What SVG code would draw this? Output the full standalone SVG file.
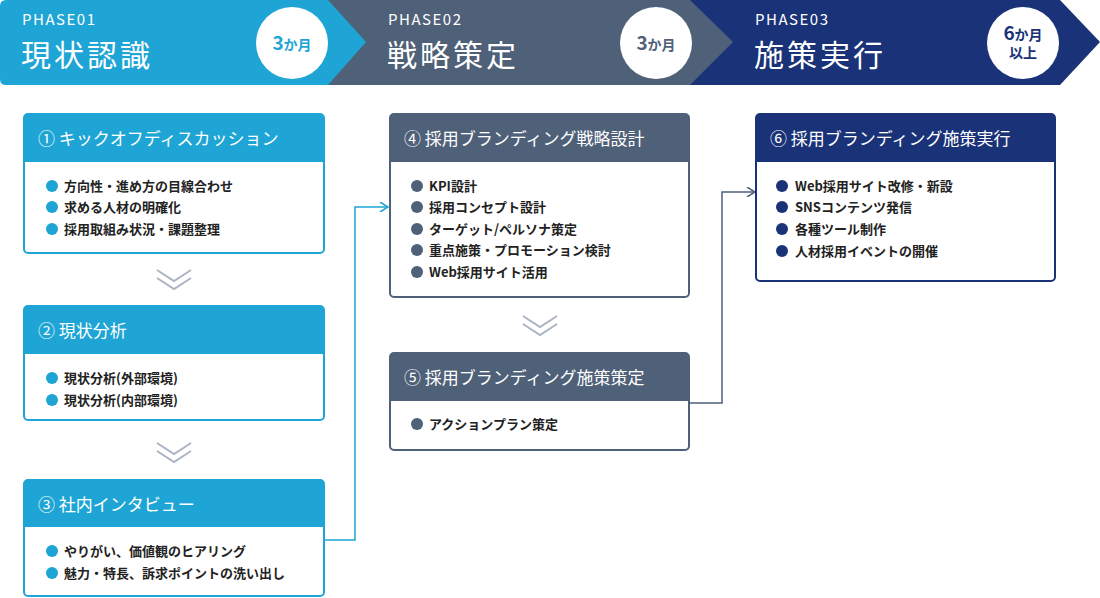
<svg xmlns="http://www.w3.org/2000/svg" width="1100" height="598" viewBox="0 0 1100 598">
<style>
text{font-family:"Noto Sans CJK JP","Noto Sans",sans-serif}
.ph{fill:#fff;font-size:15px;letter-spacing:1.5px}
.pt{fill:#fff;font-size:30px;letter-spacing:3px}
.hd{fill:#fff;font-size:17px}
.it{fill:#222;font-size:13px;font-weight:bold}
.body{fill:#fff;stroke-width:2}
.b1{stroke:#1ea5d5}.b2{stroke:#4f6079}.b3{stroke:#1a3278}
.d1{fill:#1ea5d5}.d2{fill:#4f6079}.d3{fill:#1a3278}
.chev{fill:none;stroke:#aab4c2;stroke-width:2}
.conn{fill:none;stroke-width:1.5}
</style>
<g id="banner">
<polygon points="690,0 1060,0 1100,42 1060,85 690,85" fill="#1a3278"/>
<polygon points="325,0 690,0 733,42 690,85 325,85" fill="#4f6079"/>
<path d="M6,0 H328 L366,42 L328,85 H6 Q0,85 0,79 V6 Q0,0 6,0Z" fill="#1ea5d5"/>
<text class="ph" x="22" y="25">PHASE01</text><text class="pt" x="21" y="66">現状認識</text>
<text class="ph" x="388" y="25">PHASE02</text><text class="pt" x="387" y="66">戦略策定</text>
<text class="ph" x="755" y="25">PHASE03</text><text class="pt" x="754" y="66">施策実行</text>
<circle cx="292" cy="43" r="36" fill="#fff"/>
<text x="292" y="50" text-anchor="middle" fill="#1ea5d5" font-weight="bold"><tspan font-size="19">3</tspan><tspan font-size="14">か月</tspan></text>
<circle cx="656" cy="43" r="36" fill="#fff"/>
<text x="656" y="50" text-anchor="middle" fill="#4f6079" font-weight="bold"><tspan font-size="19">3</tspan><tspan font-size="14">か月</tspan></text>
<circle cx="1023" cy="43" r="36" fill="#fff"/>
<text x="1023" y="40" text-anchor="middle" fill="#1a3278" font-weight="bold"><tspan font-size="19">6</tspan><tspan font-size="14">か月</tspan></text>
<text x="1023" y="58" text-anchor="middle" fill="#1a3278" font-weight="bold" font-size="14">以上</text>
</g>
<defs><marker id="ar" viewBox="0 0 10 10" refX="9" refY="5" markerWidth="10" markerHeight="10" markerUnits="userSpaceOnUse"><path d="M1,0 L9,5 L1,10" fill="none" stroke="context-stroke" stroke-width="1.5"/></marker></defs>
<g id="connectors">
<polyline class="conn" stroke="#1ea5d5" points="324,540 355,540 355,207 388,207" marker-end="url(#ar)"/>
<polyline class="conn" stroke="#4f6079" points="689,403 722,403 722,192 755,192" marker-end="url(#ar)"/>
<path class="chev" d="M157,270 L174,281 L191,270 M157,278 L174,289 L191,278"/>
<path class="chev" d="M157,443 L174,454 L191,443 M157,451 L174,462 L191,451"/>
<path class="chev" d="M523,316 L540,327 L557,316 M523,324 L540,335 L557,324"/>
</g>
<g id="n1"><rect class="body b1" x="24" y="114" width="300" height="139" rx="4"/><path d="M28,114 H320 Q324,114 324,118 V162 H24 V118 Q24,114 28,114Z" class="d1"/>
<text class="hd" x="38" y="145">① キックオフディスカッション</text>
<circle class="d1" cx="52" cy="186" r="6"/><text class="it" x="64" y="191">方向性・進め方の目線合わせ</text>
<circle class="d1" cx="52" cy="207" r="6"/><text class="it" x="64" y="212">求める人材の明確化</text>
<circle class="d1" cx="52" cy="229" r="6"/><text class="it" x="64" y="234">採用取組み状況・課題整理</text></g>
<g id="n2"><rect class="body b1" x="24" y="306" width="300" height="114" rx="4"/><path d="M28,306 H320 Q324,306 324,310 V354 H24 V310 Q24,306 28,306Z" class="d1"/>
<text class="hd" x="38" y="337">② 現状分析</text>
<circle class="d1" cx="52" cy="378" r="6"/><text class="it" x="64" y="383">現状分析(外部環境)</text>
<circle class="d1" cx="52" cy="400" r="6"/><text class="it" x="64" y="405">現状分析(内部環境)</text></g>
<g id="n3"><rect class="body b1" x="24" y="480" width="300" height="116" rx="4"/><path d="M28,480 H320 Q324,480 324,484 V527 H24 V484 Q24,480 28,480Z" class="d1"/>
<text class="hd" x="38" y="511">③ 社内インタビュー</text>
<circle class="d1" cx="52" cy="551" r="6"/><text class="it" x="64" y="556">やりがい、価値観のヒアリング</text>
<circle class="d1" cx="52" cy="573" r="6"/><text class="it" x="64" y="578">魅力・特長、訴求ポイントの洗い出し</text></g>
<g id="n4"><rect class="body b2" x="390" y="114" width="299" height="183" rx="4"/><path d="M394,114 H685 Q689,114 689,118 V162 H390 V118 Q390,114 394,114Z" class="d2"/>
<text class="hd" x="404" y="145">④ 採用ブランディング戦略設計</text>
<circle class="d2" cx="417" cy="186" r="6"/><text class="it" x="429" y="191">KPI設計</text>
<circle class="d2" cx="417" cy="207" r="6"/><text class="it" x="429" y="212">採用コンセプト設計</text>
<circle class="d2" cx="417" cy="229" r="6"/><text class="it" x="429" y="234">ターゲット/ペルソナ策定</text>
<circle class="d2" cx="417" cy="250" r="6"/><text class="it" x="429" y="255">重点施策・プロモーション検討</text>
<circle class="d2" cx="417" cy="272" r="6"/><text class="it" x="429" y="277">Web採用サイト活用</text></g>
<g id="n5"><rect class="body b2" x="390" y="353" width="299" height="97" rx="4"/><path d="M394,353 H685 Q689,353 689,357 V401 H390 V357 Q390,353 394,353Z" class="d2"/>
<text class="hd" x="404" y="384">⑤ 採用ブランディング施策策定</text>
<circle class="d2" cx="417" cy="424" r="6"/><text class="it" x="429" y="429">アクションプラン策定</text></g>
<g id="n6"><rect class="body b3" x="756" y="114" width="299" height="167" rx="4"/><path d="M760,114 H1051 Q1055,114 1055,118 V162 H756 V118 Q756,114 760,114Z" class="d3"/>
<text class="hd" x="770" y="145">⑥ 採用ブランディング施策実行</text>
<circle class="d3" cx="782" cy="186" r="6"/><text class="it" x="795" y="191">Web採用サイト改修・新設</text>
<circle class="d3" cx="782" cy="207" r="6"/><text class="it" x="795" y="212">SNSコンテンツ発信</text>
<circle class="d3" cx="782" cy="229" r="6"/><text class="it" x="795" y="234">各種ツール制作</text>
<circle class="d3" cx="782" cy="251" r="6"/><text class="it" x="795" y="256">人材採用イベントの開催</text></g>
</svg>
